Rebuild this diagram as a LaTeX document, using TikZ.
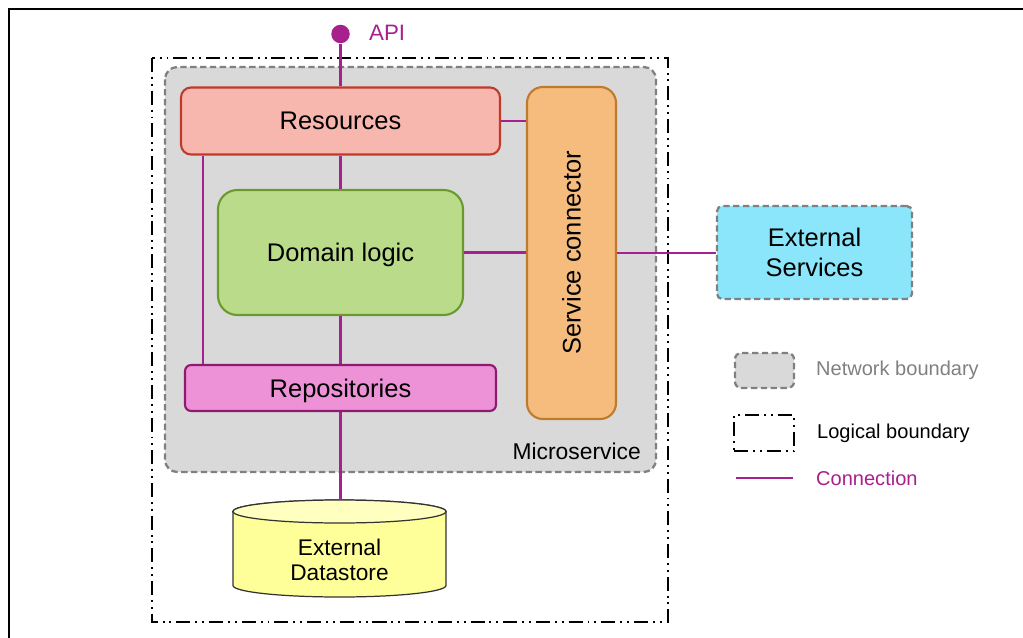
\documentclass[tikz,border=0pt]{standalone}
\usepackage{fontspec}
\setmainfont{Liberation Sans}
\usepackage{graphicx}

\definecolor{conn}{RGB}{168,32,142}
\definecolor{netgray}{RGB}{128,128,128}
\definecolor{netfill}{RGB}{217,217,217}
\definecolor{resfill}{RGB}{248,183,174}
\definecolor{resdraw}{RGB}{190,58,44}
\definecolor{scfill}{RGB}{246,188,126}
\definecolor{scdraw}{RGB}{192,122,46}
\definecolor{domfill}{RGB}{186,220,138}
\definecolor{domdraw}{RGB}{106,154,46}
\definecolor{repofill}{RGB}{238,146,216}
\definecolor{repodraw}{RGB}{142,27,111}
\definecolor{extfill}{RGB}{139,230,252}
\definecolor{dbfill}{RGB}{255,255,153}
\definecolor{dbtopfill}{RGB}{255,255,192}

\tikzset{
  box/.style={draw, line width=1.2pt, inner sep=0pt, align=center},
  link/.style={draw=conn, line width=1.5pt},
  netline/.style={draw=netgray, line width=1.3pt, dash pattern=on 3.6pt off 2pt},
  logicline/.style={draw=black, line width=1.2pt,
    dash pattern=on 8pt off 2.8pt on 1.1pt off 2.8pt on 1.1pt off 2.8pt},
  legendtext/.style={anchor=west, font=\fontsize{11.4}{13}\selectfont}
}

\begin{document}
\begin{tikzpicture}[font=\fontsize{14.5}{17}\selectfont]

\useasboundingbox (0,0) rectangle (20.46,-12.76);

% frame
\draw[line width=0.85pt] (20.46,-0.18) -- (0.18,-0.18) -- (0.18,-12.76);

% boundaries
\draw[logicline] (3.04,-1.16) rectangle (13.36,-12.44);
\draw[netline, fill=netfill, rounded corners=7pt] (3.30,-1.34) rectangle (13.12,-9.44);
\node[anchor=east, font=\fontsize{13}{15}\selectfont] (ms) at (12.94,-9.02) {Microservice};

% components
\node[box, draw=resdraw, fill=resfill, rounded corners=5.7pt,
  minimum width=6.38cm, minimum height=1.34cm] (res) at (6.81,-2.42) {Resources};
\node[box, draw=scdraw, fill=scfill, rounded corners=9pt,
  minimum width=1.78cm, minimum height=6.64cm] (sc) at (11.43,-5.06) {\rotatebox{90}{Service connector}};
\node[box, draw=domdraw, fill=domfill, rounded corners=11pt, text depth=0pt,
  minimum width=4.9cm, minimum height=2.5cm] (dom) at (6.81,-5.05) {Domain logic};
\node[box, draw=repodraw, fill=repofill, rounded corners=3.5pt, text depth=0pt,
  minimum width=6.22cm, minimum height=0.92cm] (repo) at (6.81,-7.76) {Repositories};
\node[box, netline, fill=extfill, rounded corners=3pt,
  minimum width=3.9cm, minimum height=1.86cm] (ext) at (16.29,-5.05) {External\\Services};

% datastore
\draw[line width=0.7pt, draw=black!80, fill=dbfill] (4.66,-10.23) -- (4.66,-11.71)
  arc[start angle=180, end angle=360, x radius=2.13cm, y radius=0.23cm] -- (8.92,-10.23)
  arc[start angle=0, end angle=180, x radius=2.13cm, y radius=0.23cm] -- cycle;
\draw[line width=0.7pt, draw=black!80, fill=dbtopfill] (6.79,-10.23) ellipse[x radius=2.13cm, y radius=0.23cm];
\coordinate (dbtop) at (6.81,-10.0);
\node[align=center, font=\fontsize{12.9}{14.2}\selectfont] (db) at (6.79,-11.19) {External\\Datastore};

% api
\node[circle, fill=conn, inner sep=0pt, minimum size=0.37cm] (api) at (6.81,-0.68) {};
\node[anchor=west, text=conn, font=\fontsize{12.7}{15}\selectfont] (apitext) at (7.26,-0.66) {API};

% connections
\draw[link] (api) -- (res.north);
\draw[link] (res.south) -- (dom.north);
\draw[link] (dom.south) -- (repo.north);
\draw[link] ([xshift=0.46cm]res.south west) -- ([xshift=0.46cm]res.south west |- repo.north);
\draw[link] (res.east) -- (res.east -| sc.west);
\draw[link] (dom.east) -- (dom.east -| sc.west);
\draw[link] (sc.east) -- (sc.east -| ext.west);
\draw[link] (repo.south) -- (dbtop);

% legend
\node[netline, fill=netfill, rounded corners=3.5pt, minimum width=1.18cm, minimum height=0.7cm] (netkey) at (15.29,-7.41) {};
\node[legendtext, text=netgray] (nettext) at (16.20,-7.40) {Network boundary};
\node[logicline, minimum width=1.2cm, minimum height=0.72cm] (logickey) at (15.28,-8.66) {};
\node[legendtext] (logictext) at (16.22,-8.66) {Logical boundary};
\coordinate (connA) at (14.72,-9.56);
\coordinate (connB) at (15.86,-9.56);
\draw[link] (connA) -- (connB);
\node[legendtext, text=conn] (conntext) at (16.20,-9.56) {Connection};

\end{tikzpicture}
\end{document}
